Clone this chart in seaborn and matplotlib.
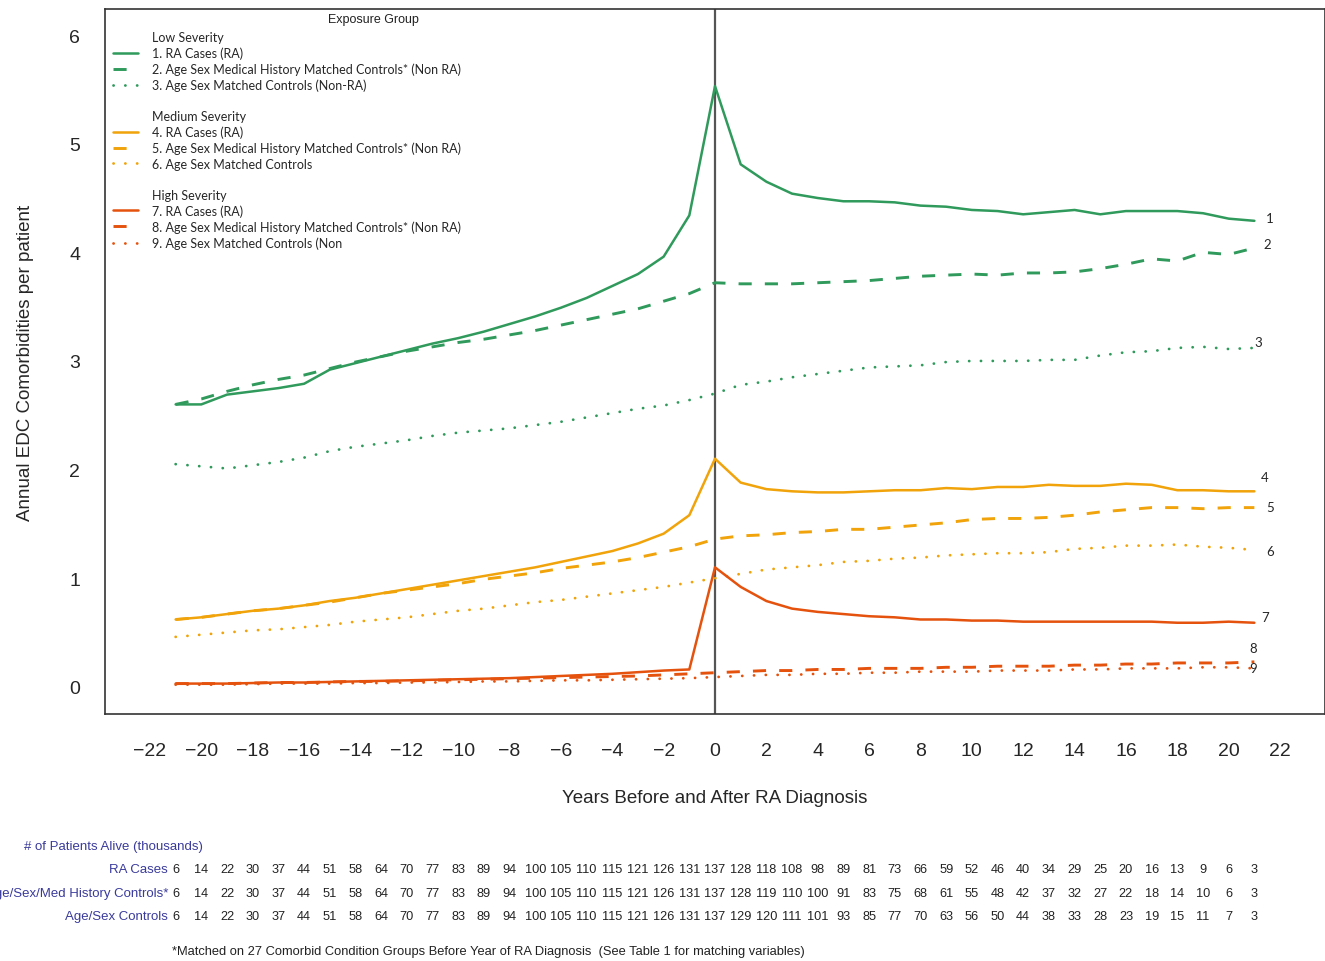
import matplotlib
matplotlib.use("Agg")
import matplotlib.pyplot as plt
import matplotlib.transforms as mtransforms
from matplotlib.lines import Line2D
import seaborn as sns
import numpy as np
import pandas as pd

# ---------------- data ----------------
years = list(range(-21, 22))

low_ra = [2.60, 2.60, 2.69, 2.72, 2.75, 2.79, 2.92, 2.98, 3.04, 3.10, 3.16, 3.21, 3.27, 3.34, 3.41, 3.49, 3.58, 3.69, 3.80, 3.96, 4.34,
          5.53, 4.81, 4.65, 4.54, 4.50, 4.47, 4.47, 4.46, 4.43, 4.42, 4.39, 4.38, 4.35, 4.37, 4.39, 4.35, 4.38, 4.38, 4.38, 4.36, 4.31, 4.29]
low_med = [2.60, 2.65, 2.72, 2.78, 2.83, 2.87, 2.93, 2.99, 3.04, 3.09, 3.13, 3.17, 3.20, 3.24, 3.28, 3.33, 3.38, 3.43, 3.48, 3.55, 3.62,
           3.72, 3.71, 3.71, 3.71, 3.72, 3.73, 3.74, 3.76, 3.78, 3.79, 3.80, 3.79, 3.81, 3.81, 3.82, 3.85, 3.89, 3.94, 3.92, 4.00, 3.98, 4.04]
low_as = [2.05, 2.03, 2.01, 2.04, 2.07, 2.11, 2.17, 2.21, 2.24, 2.27, 2.31, 2.34, 2.36, 2.38, 2.41, 2.44, 2.48, 2.52, 2.56, 2.59, 2.64,
          2.70, 2.78, 2.81, 2.85, 2.88, 2.91, 2.94, 2.95, 2.96, 2.99, 3.00, 3.00, 3.00, 3.01, 3.01, 3.05, 3.08, 3.09, 3.12, 3.13, 3.11, 3.12]

med_ra = [0.62, 0.64, 0.67, 0.70, 0.72, 0.75, 0.79, 0.82, 0.86, 0.90, 0.94, 0.98, 1.02, 1.06, 1.10, 1.15, 1.20, 1.25, 1.32, 1.41, 1.58,
          2.10, 1.88, 1.82, 1.80, 1.79, 1.79, 1.80, 1.81, 1.81, 1.83, 1.82, 1.84, 1.84, 1.86, 1.85, 1.85, 1.87, 1.86, 1.81, 1.81, 1.80, 1.80]
med_med = [0.62, 0.64, 0.67, 0.70, 0.72, 0.75, 0.78, 0.82, 0.86, 0.89, 0.92, 0.95, 0.99, 1.02, 1.05, 1.09, 1.12, 1.15, 1.19, 1.24, 1.29,
           1.36, 1.39, 1.40, 1.42, 1.43, 1.45, 1.45, 1.47, 1.49, 1.51, 1.54, 1.55, 1.55, 1.56, 1.58, 1.61, 1.63, 1.65, 1.65, 1.64, 1.65, 1.65]
med_as = [0.46, 0.48, 0.50, 0.52, 0.53, 0.55, 0.57, 0.60, 0.62, 0.64, 0.67, 0.70, 0.72, 0.75, 0.78, 0.80, 0.83, 0.86, 0.89, 0.92, 0.96,
          1.00, 1.04, 1.08, 1.10, 1.12, 1.15, 1.16, 1.18, 1.19, 1.21, 1.22, 1.23, 1.23, 1.24, 1.27, 1.28, 1.30, 1.30, 1.31, 1.29, 1.28, 1.26]

high_ra = [0.03, 0.03, 0.03, 0.035, 0.04, 0.04, 0.045, 0.05, 0.055, 0.06, 0.065, 0.07, 0.075, 0.08, 0.09, 0.10, 0.11, 0.12, 0.135, 0.15, 0.16,
           1.10, 0.92, 0.79, 0.72, 0.69, 0.67, 0.65, 0.64, 0.62, 0.62, 0.61, 0.61, 0.60, 0.60, 0.60, 0.60, 0.60, 0.60, 0.59, 0.59, 0.60, 0.59]
high_med = [0.03, 0.03, 0.03, 0.035, 0.04, 0.04, 0.045, 0.05, 0.05, 0.055, 0.06, 0.065, 0.07, 0.075, 0.08, 0.085, 0.09, 0.095, 0.10, 0.11, 0.12,
            0.13, 0.14, 0.15, 0.15, 0.16, 0.16, 0.17, 0.17, 0.17, 0.18, 0.18, 0.19, 0.19, 0.19, 0.20, 0.20, 0.21, 0.21, 0.22, 0.22, 0.22, 0.23]
high_as = [0.02, 0.02, 0.02, 0.025, 0.03, 0.03, 0.03, 0.035, 0.035, 0.04, 0.04, 0.045, 0.05, 0.05, 0.055, 0.06, 0.06, 0.065, 0.07, 0.075, 0.08,
           0.09, 0.10, 0.11, 0.11, 0.12, 0.12, 0.13, 0.13, 0.14, 0.14, 0.14, 0.15, 0.15, 0.15, 0.16, 0.16, 0.17, 0.17, 0.17, 0.18, 0.18, 0.17]

series_labels = ["1. RA Cases (RA)",
                 "2. Age Sex Medical History Matched Controls* (Non RA)",
                 "3. Age Sex Matched Controls (Non-RA)",
                 "4. RA Cases (RA)",
                 "5. Age Sex Medical History Matched Controls* (Non RA)",
                 "6. Age Sex Matched Controls",
                 "7. RA Cases (RA)",
                 "8. Age Sex Medical History Matched Controls* (Non RA)",
                 "9. Age Sex Matched Controls (Non"]
group_headers = ["Low Severity", "Medium Severity", "High Severity"]
end_numbers = ["1", "2", "3", "4", "5", "6", "7", "8", "9"]

n_ra = [6, 14, 22, 30, 37, 44, 51, 58, 64, 70, 77, 83, 89, 94, 100, 105, 110, 115, 121, 126, 131,
        137, 128, 118, 108, 98, 89, 81, 73, 66, 59, 52, 46, 40, 34, 29, 25, 20, 16, 13, 9, 6, 3]
n_med = [6, 14, 22, 30, 37, 44, 51, 58, 64, 70, 77, 83, 89, 94, 100, 105, 110, 115, 121, 126, 131,
         137, 128, 119, 110, 100, 91, 83, 75, 68, 61, 55, 48, 42, 37, 32, 27, 22, 18, 14, 10, 6, 3]
n_as = [6, 14, 22, 30, 37, 44, 51, 58, 64, 70, 77, 83, 89, 94, 100, 105, 110, 115, 121, 126, 131,
        137, 129, 120, 111, 101, 93, 85, 77, 70, 63, 56, 50, 44, 38, 33, 28, 23, 19, 15, 11, 7, 3]
row_labels = ["RA Cases", "Age/Sex/Med History Controls*", "Age/Sex Controls"]

# ---------------- style ----------------
sns.set_style("white")
plt.rcParams["font.family"] = ["Liberation Sans", "DejaVu Sans"]
plt.rcParams["axes.unicode_minus"] = True

GREEN = "#2f9a5b"
ORANGE = "#f0a30a"
RED = "#e4520e"
colors = [GREEN] * 3 + [ORANGE] * 3 + [RED] * 3
DOT = (0, (0.05, 4.2))
styles = ["-", (0, (4.5, 4.5)), DOT] * 3
widths = [1.8, 2.1, 2.0] * 3

all_series = [low_ra, low_med, low_as, med_ra, med_med, med_as, high_ra, high_med, high_as]

fig = plt.figure(figsize=(13.25, 9.62), dpi=100)
ax = fig.add_axes([105 / 1325, 1 - 715 / 962, 1220 / 1325, 705 / 962])

for vals, c, ls, lw in zip(all_series, colors, styles, widths):
    sns.lineplot(x=years, y=vals, color=c, linestyle=ls, linewidth=lw, ax=ax,
                 dash_capstyle="round" if ls == DOT else "butt")

ax.axvline(0, color="#555555", lw=1.6, zorder=1)

ax.set_xlim(-23.75, 23.75)
ax.set_ylim(-0.25, 6.24)
ax.set_xticks(range(-22, 23))
ax.set_xticklabels([str(v).replace("-", "\u2212") if v % 2 == 0 else "" for v in range(-22, 23)])
ax.set_yticks(range(0, 7))
ax.tick_params(axis="x", direction="out", length=9, width=1.1, pad=11, labelsize=14, color="#333333")
ax.tick_params(axis="y", direction="out", length=9, width=1.1, pad=9, labelsize=14, color="#333333")
for s in ax.spines.values():
    s.set_color("#333333")
    s.set_linewidth(1.2)

ax.set_xlabel("Years Before and After RA Diagnosis", fontsize=13.5, labelpad=22)
ax.set_ylabel("Annual EDC Comorbidities per patient", fontsize=13.5, labelpad=25)

# end labels
end_x = [21.6, 21.5, 21.15, 21.4, 21.6, 21.6, 21.4, 20.95, 20.95]
end_y = [4.32, 4.08, 3.17, 1.93, 1.66, 1.25, 0.64, 0.36, 0.17]
for t, x, y in zip(end_numbers, end_x, end_y):
    ax.text(x, y, t, fontsize=9.5, ha="center", va="center", family=["Lato", "DejaVu Sans"])

# legend
blank = Line2D([], [], color="none")
handles, labels = [], []
for g in range(3):
    handles.append(blank)
    labels.append(group_headers[g])
    for i in range(3):
        k = g * 3 + i
        handles.append(Line2D([], [], color=colors[k], linestyle=styles[k], linewidth=widths[k],
                              dash_capstyle="round" if styles[k] == DOT else "butt"))
        labels.append(series_labels[k])
    if g < 2:
        handles.append(blank)
        labels.append(" ")
leg = ax.legend(handles, labels, loc="upper left", bbox_to_anchor=(8 / 1220, (715 - 32) / 705),
                frameon=False, borderpad=0, borderaxespad=0, handlelength=2.0, handletextpad=1.1,
                labelspacing=0.28, prop={"family": ["Lato", "DejaVu Sans"], "size": 9})
ax.text((373 - 105) / 1220, (715 - 20) / 705, "Exposure Group", transform=ax.transAxes,
        ha="center", va="center", fontsize=9, color="#222222")

# table below
trans = mtransforms.blended_transform_factory(ax.transData, fig.transFigure)
tfont = ["Liberation Sans", "DejaVu Sans"]
TABLE_BLUE = "#3a3a9c"
fig.text(24 / 1325, 1 - 847 / 962, "# of Patients Alive (thousands)", ha="left", va="center",
         fontsize=9.5, color=TABLE_BLUE, family=tfont)
row_y = [870, 894, 917]
for lab, nums, ypx in zip(row_labels, [n_ra, n_med, n_as], row_y):
    yf = 1 - ypx / 962
    ax.text(-21.3, yf, lab, transform=trans, ha="right", va="center", fontsize=9.5,
            color=TABLE_BLUE, family=tfont, clip_on=False)
    for x, n in zip(years, nums):
        ax.text(x, yf, str(n), transform=trans, ha="center", va="center", fontsize=9.2,
                color="#222222", family=tfont, clip_on=False)

fig.text(172 / 1325, 1 - 952 / 962,
         "*Matched on 27 Comorbid Condition Groups Before Year of RA Diagnosis  (See Table 1 for matching variables)",
         ha="left", va="center", fontsize=9.3, color="#222222", family=tfont)

fig.savefig("out.png", dpi=100)
